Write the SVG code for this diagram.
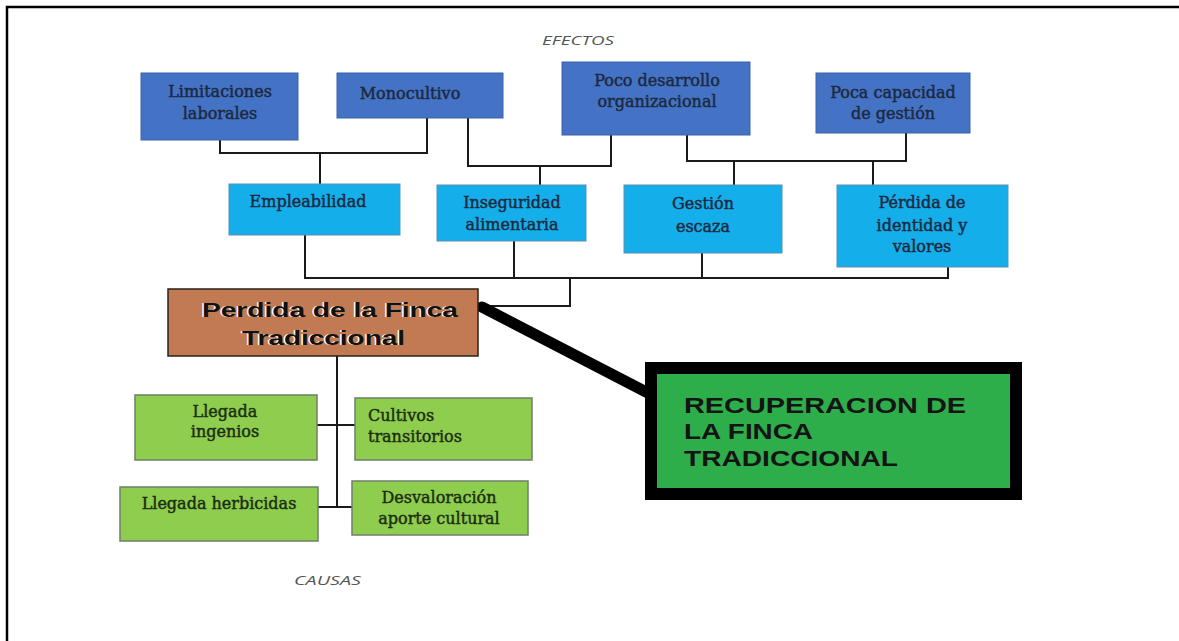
<svg xmlns="http://www.w3.org/2000/svg" width="1179" height="641" viewBox="0 0 1179 641">
<style>
.dk{fill:#4472c4;stroke:#3b63ad;stroke-width:1}
.lt{fill:#14aeea;stroke:#5b8fb0;stroke-width:1}
.gr{fill:#8fcd4f;stroke:#6f7f68;stroke-width:1.5}
.st{font-family:"DejaVu Serif","Liberation Serif",serif;font-size:16px;text-anchor:middle;stroke-width:0.45}
.tb{fill:#1c2940;stroke:#1c2940}
.tg{fill:#1b2e10;stroke:#1b2e10}
.lbl{font-family:"Open Sans","Liberation Sans",sans-serif;font-style:italic;font-size:13px;fill:#555}
.con{fill:none;stroke:#1a1a1a;stroke-width:2}
.big{font-family:"Liberation Sans",Arial,sans-serif;font-weight:bold;font-size:21px}
.rec{font-family:"Liberation Sans",Arial,sans-serif;font-weight:bold;font-size:22px;fill:#141414}
</style>
<rect width="1179" height="641" fill="#fff"/>
<path d="M7,641 V7 H1179" fill="none" stroke="#000" stroke-width="2.5"/>
<text class="lbl" x="542" y="45" textLength="72" lengthAdjust="spacingAndGlyphs">EFECTOS</text>
<text class="lbl" x="294" y="585" textLength="67" lengthAdjust="spacingAndGlyphs">CAUSAS</text>
<g id="connectors">
<path class="con" d="M220,140 V153 H427 V118"/>
<path class="con" d="M320,153 V184"/>
<path class="con" d="M468,118 V166 H611 V135"/>
<path class="con" d="M540,166 V185"/>
<path class="con" d="M687,135 V161 H906 V133"/>
<path class="con" d="M734,161 V185"/>
<path class="con" d="M873,161 V185"/>
<path class="con" d="M305,235 V278 H948 V267"/>
<path class="con" d="M514,241 V278"/>
<path class="con" d="M702,253 V278"/>
<path class="con" d="M570,278 V306 H478"/>
<path class="con" d="M337,356 V508"/>
<path class="con" d="M317,425 H355"/>
<path class="con" d="M318,507 H352"/>
<path d="M482,307 L650,394" fill="none" stroke="#000" stroke-width="11" stroke-linecap="round"/>
</g>
<g id="limitaciones">
<rect class="dk" x="141" y="73" width="157" height="67"/>
<text class="st tb" x="220" y="97">Limitaciones</text>
<text class="st tb" x="220" y="119">laborales</text>
</g>
<g id="monocultivo">
<rect class="dk" x="337" y="73" width="166" height="45"/>
<text class="st tb" x="410" y="99">Monocultivo</text>
</g>
<g id="poco-desarrollo">
<rect class="dk" x="562" y="62" width="188" height="73"/>
<text class="st tb" x="657" y="86">Poco desarrollo</text>
<text class="st tb" x="657" y="107">organizacional</text>
</g>
<g id="poca-capacidad">
<rect class="dk" x="816" y="73" width="154" height="60"/>
<text class="st tb" x="893" y="98">Poca capacidad</text>
<text class="st tb" x="893" y="119">de gestión</text>
</g>
<g id="empleabilidad">
<rect class="lt" x="229" y="184" width="171" height="51"/>
<text class="st tb" x="308" y="207">Empleabilidad</text>
</g>
<g id="inseguridad">
<rect class="lt" x="437" y="185" width="149" height="56"/>
<text class="st tb" x="512" y="208">Inseguridad</text>
<text class="st tb" x="512" y="230">alimentaria</text>
</g>
<g id="gestion">
<rect class="lt" x="624" y="185" width="158" height="68"/>
<text class="st tb" x="703" y="209">Gestión</text>
<text class="st tb" x="703" y="232">escaza</text>
</g>
<g id="perdida-identidad">
<rect class="lt" x="837" y="185" width="171" height="82"/>
<text class="st tb" x="922" y="208">Pérdida de</text>
<text class="st tb" x="922" y="231">identidad y</text>
<text class="st tb" x="922" y="252">valores</text>
</g>
<g id="perdida-finca">
<rect x="168" y="289" width="310" height="67" fill="#c27a52" stroke="#2b2018" stroke-width="1.5"/>
<text class="big" x="200.5" y="316.5" fill="#fff" textLength="256" lengthAdjust="spacingAndGlyphs">Perdida de la Finca</text>
<text class="big" x="240.5" y="344.5" fill="#fff" textLength="163" lengthAdjust="spacingAndGlyphs">Tradiccional</text>
<text class="big" x="202" y="317" fill="#111" textLength="256" lengthAdjust="spacingAndGlyphs">Perdida de la Finca</text>
<text class="big" x="242" y="345" fill="#111" textLength="163" lengthAdjust="spacingAndGlyphs">Tradiccional</text>
</g>
<g id="llegada-ingenios">
<rect class="gr" x="135" y="395" width="182" height="65"/>
<text class="st tg" x="225" y="417">Llegada</text>
<text class="st tg" x="225" y="437">ingenios</text>
</g>
<g id="cultivos">
<rect class="gr" x="355" y="398" width="177" height="62"/>
<text class="st tg" x="368" y="421" style="text-anchor:start">Cultivos</text>
<text class="st tg" x="368" y="442" style="text-anchor:start">transitorios</text>
</g>
<g id="llegada-herbicidas">
<rect class="gr" x="120" y="487" width="198" height="54"/>
<text class="st tg" x="219" y="509">Llegada herbicidas</text>
</g>
<g id="desvaloracion">
<rect class="gr" x="352" y="481" width="176" height="54"/>
<text class="st tg" x="439" y="503">Desvaloración</text>
<text class="st tg" x="439" y="524">aporte cultural</text>
</g>
<g id="recuperacion">
<rect x="651" y="368" width="365" height="126" fill="#2eae4a" stroke="#000" stroke-width="12"/>
<text class="rec" x="684" y="413" textLength="282" lengthAdjust="spacingAndGlyphs">RECUPERACION DE</text>
<text class="rec" x="684" y="439" textLength="129" lengthAdjust="spacingAndGlyphs">LA FINCA</text>
<text class="rec" x="684" y="466" textLength="214" lengthAdjust="spacingAndGlyphs">TRADICCIONAL</text>
</g>
</svg>
